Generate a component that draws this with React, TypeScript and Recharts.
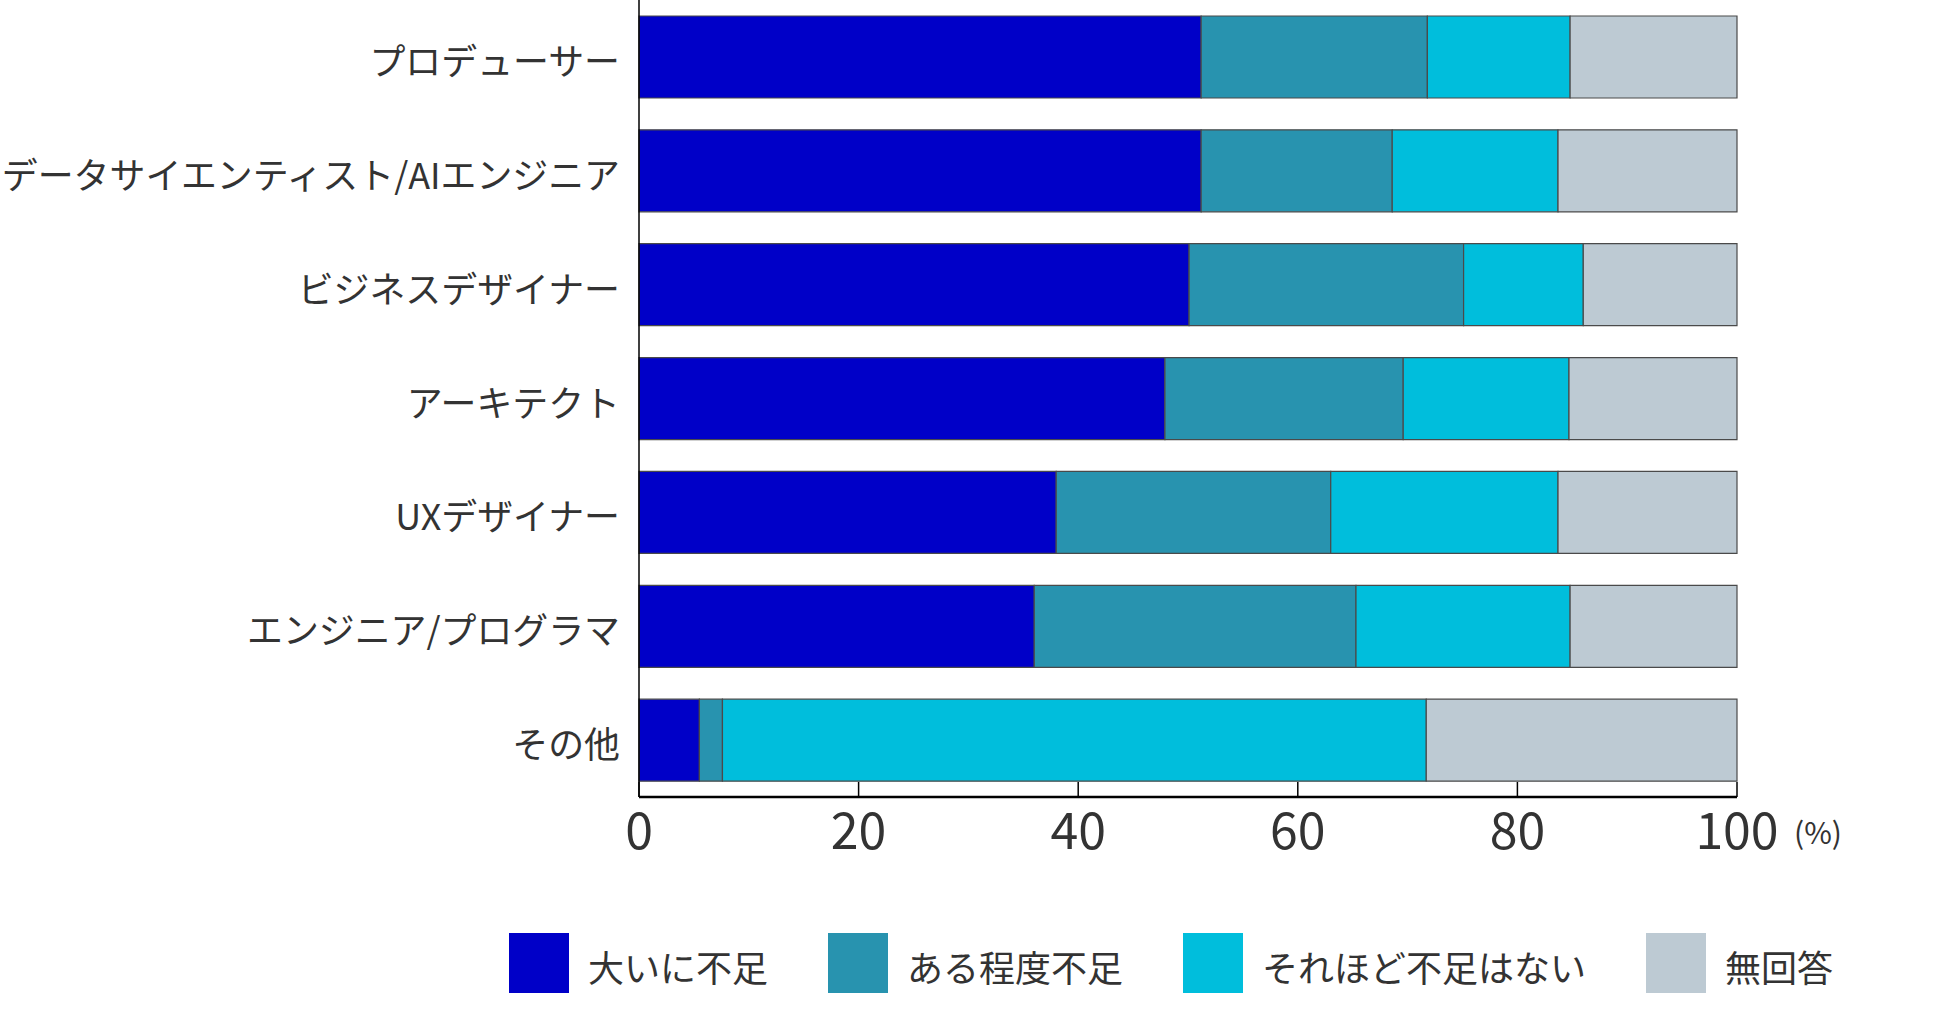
import { BarChart, Bar, XAxis, YAxis, Legend } from "recharts";

const categories = [
  "プロデューサー",
  "データサイエンティスト/AIエンジニア",
  "ビジネスデザイナー",
  "アーキテクト",
  "UXデザイナー",
  "エンジニア/プログラマ",
  "その他",
];

const severe = [51.2, 51.2, 50.1, 47.9, 38.0, 36.0, 5.5];
const somewhat = [20.6, 17.4, 25.0, 21.7, 25.0, 29.3, 2.1];
const notReally = [13.0, 15.1, 10.9, 15.1, 20.7, 19.5, 64.1];
const noAnswer = [15.2, 16.3, 14.0, 15.3, 16.3, 15.2, 28.3];

const xTicks = [0, 20, 40, 60, 80, 100];

const series = [
  { key: "severe", name: "大いに不足", color: "#0000c8" },
  { key: "somewhat", name: "ある程度不足", color: "#2893af" },
  { key: "notReally", name: "それほど不足はない", color: "#00bedc" },
  { key: "noAnswer", name: "無回答", color: "#bdcad3" },
];

const data = categories.map((name, i) => ({
  name,
  severe: severe[i],
  somewhat: somewhat[i],
  notReally: notReally[i],
  noAnswer: noAnswer[i],
}));

const FONT = '"Noto Sans CJK JP", "Noto Sans", sans-serif';
const TEXT = "#333";

function CategoryTick({ x, y, payload }: any) {
  return (
    <text
      x={x - 19}
      y={y + 18}
      textAnchor="end"
      fontSize={35.9}
      fontFamily={FONT}
      fill={TEXT}
    >
      {payload.value}
    </text>
  );
}

function ValueTick({ x, y, payload }: any) {
  return (
    <g>
      <line x1={x} x2={x} y1={y} y2={y - 15} stroke="#000" strokeWidth={1.5} />
      <text
        x={x}
        y={y + 52}
        textAnchor="middle"
        fontSize={50}
        fontFamily={FONT}
        fill={TEXT}
      >
        {payload.value}
      </text>
      {payload.value === 100 && (
        <text
          x={x + 57}
          y={y + 47}
          textAnchor="start"
          fontSize={30}
          fontFamily={FONT}
          fill={TEXT}
        >
          (%)
        </text>
      )}
    </g>
  );
}

function LegendContent() {
  return (
    <div style={{ display: "flex", alignItems: "center", fontFamily: FONT }}>
      {series.map((s) => (
        <div
          key={s.key}
          style={{ display: "flex", alignItems: "center", marginRight: 60 }}
        >
          <div style={{ width: 60, height: 60, background: s.color }} />
          <span
            style={{
              marginLeft: 19,
              fontSize: 36,
              color: TEXT,
              lineHeight: "60px",
              position: "relative",
              top: 3,
            }}
          >
            {s.name}
          </span>
        </div>
      ))}
    </div>
  );
}

export default function App() {
  return (
    <div style={{ position: "absolute", left: 0, top: 0, background: "#fff" }}>
      <BarChart
        width={1948}
        height={1023}
        data={data}
        layout="vertical"
        margin={{ top: 0, right: 211, bottom: 146, left: 0 }}
        barSize={82}
      >
        <XAxis
          type="number"
          domain={[0, 100]}
          ticks={xTicks}
          height={80}
          tickLine={false}
          tickSize={0}
          tickMargin={0}
          axisLine={{ stroke: "#000", strokeWidth: 2.5 }}
          tick={<ValueTick />}
          interval={0}
        />
        <YAxis
          type="category"
          dataKey="name"
          width={639}
          tickLine={false}
          tickSize={0}
          tickMargin={0}
          axisLine={{ stroke: "#000", strokeWidth: 1.5 }}
          tick={<CategoryTick />}
          interval={0}
        />
        <Legend
          layout="horizontal"
          verticalAlign="middle"
          align="center"
          content={<LegendContent />}
          wrapperStyle={{ position: "absolute", left: 509, top: 933, width: 1420 }}
        />
        {series.map((s) => (
          <Bar
            key={s.key}
            dataKey={s.key}
            name={s.name}
            stackId="a"
            fill={s.color}
            stroke="#4a4a4a"
            strokeWidth={1.2}
            isAnimationActive={false}
          />
        ))}
      </BarChart>
    </div>
  );
}
